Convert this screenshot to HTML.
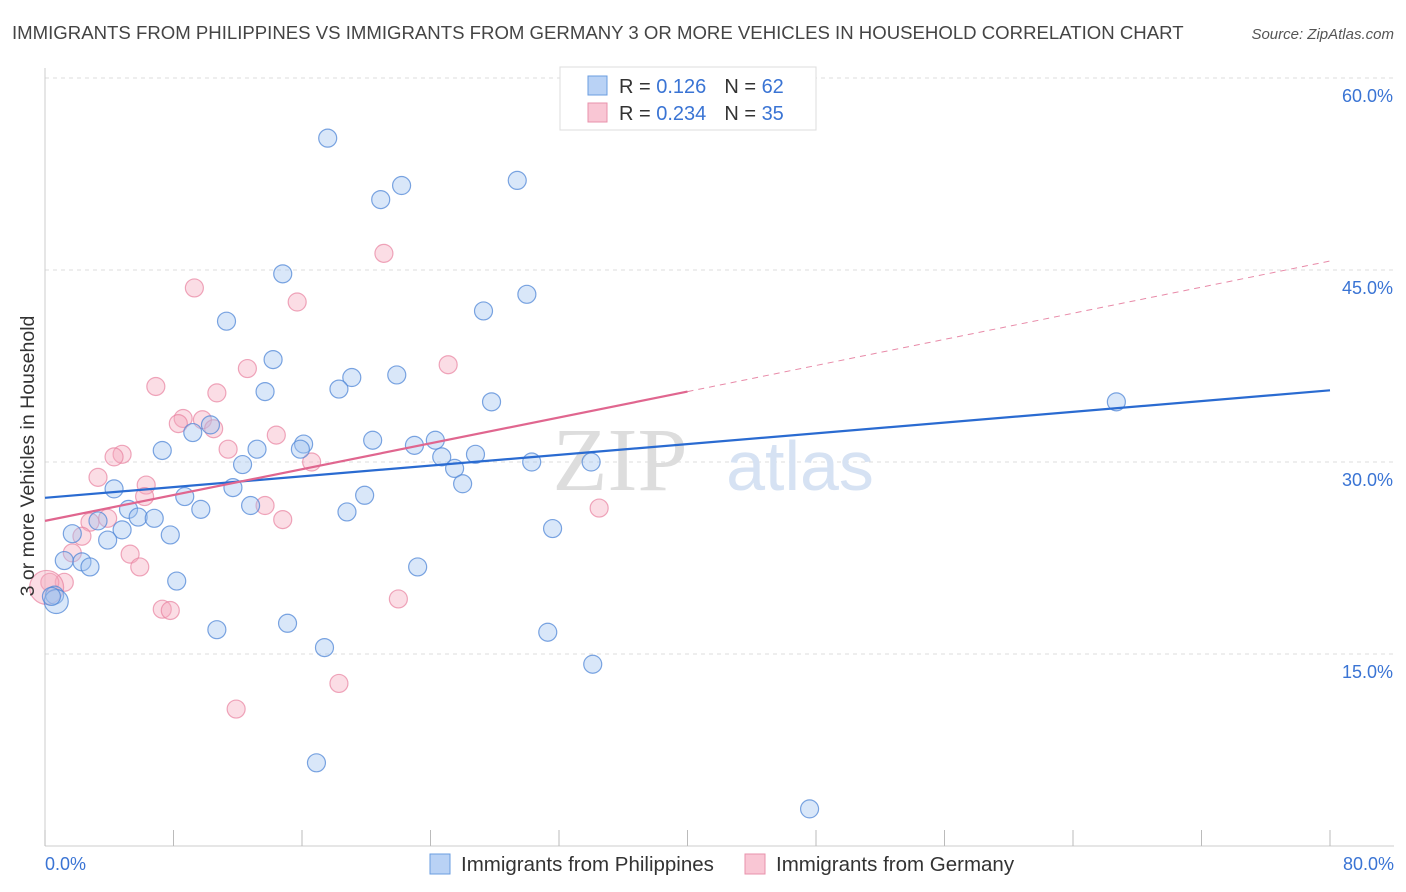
<!DOCTYPE html>
<html><head><meta charset="utf-8"><style>
body{margin:0;background:#fff;font-family:"Liberation Sans",sans-serif;}
svg{display:block}
</style></head><body>
<svg width="1406" height="892">
<text x="12" y="39" font-size="18.6" fill="#444">IMMIGRANTS FROM PHILIPPINES VS IMMIGRANTS FROM GERMANY 3 OR MORE VEHICLES IN HOUSEHOLD CORRELATION CHART</text>
<text x="1394" y="39" font-size="15" fill="#555" text-anchor="end" font-style="italic">Source: ZipAtlas.com</text>
<g id="grid"></g>
<text x="620" y="490" font-size="90" fill="#ddd" font-family="Liberation Serif,serif" text-anchor="middle">ZIP</text>
<text x="800" y="490" font-size="70" fill="#d6e2f3" text-anchor="middle">atlas</text>
<g id="pts"></g>
<g id="lines"></g>
<text transform="translate(34,456) rotate(-90)" font-size="19.5" fill="#333" text-anchor="middle">3 or more Vehicles in Household</text>
<g>
<rect x="560" y="67" width="256" height="63" fill="#fff" stroke="#ddd"/>
<rect x="588" y="76" width="19" height="19" fill="#b9d2f5" stroke="#6a9de0"/>
<rect x="588" y="103" width="19" height="19" fill="#f9c6d4" stroke="#e892ab"/>
<text x="619" y="93" font-size="20" fill="#333">R = <tspan fill="#3a74d4">0.126</tspan><tspan dx="18">N = </tspan><tspan fill="#3a74d4">62</tspan></text>
<text x="619" y="120" font-size="20" fill="#333">R = <tspan fill="#3a74d4">0.234</tspan><tspan dx="18">N = </tspan><tspan fill="#3a74d4">35</tspan></text>
</g>
<g>
<rect x="430" y="854" width="20" height="20" fill="#b9d2f5" stroke="#6a9de0"/>
<text x="461" y="871" font-size="20.5" fill="#333">Immigrants from Philippines</text>
<rect x="745" y="854" width="20" height="20" fill="#f9c6d4" stroke="#e892ab"/>
<text x="776" y="871" font-size="20.5" fill="#333">Immigrants from Germany</text>
</g>
</svg>
<script>
const yTicks=[15,30,45,60];
const xTickCount=10;
const blueX=[17.6,20.9,22.2,29.4,14.8,30.0,27.3,11.3,14.2,19.1,21.9,18.3,13.7,27.8,66.7,10.3,9.2,7.3,16.1,15.9,20.4,23.0,24.3,24.7,26.8,25.5,30.3,34.0,12.3,13.2,26.0,4.3,11.7,8.7,19.9,5.2,9.7,12.8,18.8,5.8,6.8,3.3,4.8,31.6,1.7,7.8,3.9,1.2,2.3,2.8,23.2,8.2,0.6,0.7,10.7,15.1,17.4,31.3,34.1,16.9,47.6,0.4];
const blueY=[55.3,50.5,51.6,52.0,44.7,43.1,41.8,41.0,38.0,36.6,36.8,35.7,35.5,34.7,34.7,32.9,32.3,30.9,31.4,31.0,31.7,31.3,31.7,30.4,30.6,29.5,30.0,30.0,29.8,31.0,28.3,27.9,28.0,27.3,27.4,26.3,26.3,26.6,26.1,25.7,25.6,25.4,24.7,24.8,24.4,24.3,23.9,22.3,22.2,21.8,21.8,20.7,19.6,19.1,16.9,17.4,15.5,16.7,14.2,6.5,2.9,19.5];
const pinkX=[21.1,9.3,15.7,25.1,12.6,6.9,10.7,8.6,9.8,10.5,8.3,4.8,4.3,11.4,14.4,16.6,3.3,6.3,6.2,2.8,3.9,2.3,1.7,5.3,5.9,1.2,0.3,0.1,7.3,7.8,22.0,34.5,14.8,13.7,18.3,11.9];
const pinkY=[46.3,43.6,42.5,37.6,37.3,35.9,35.4,33.4,33.3,32.6,33.0,30.6,30.4,31.0,32.1,30.0,28.8,28.2,27.3,25.3,25.6,24.2,22.9,22.8,21.8,20.6,20.6,20.2,18.5,18.4,19.3,26.4,25.5,26.6,12.7,10.7];
const pinkR=[9,9,9,9,9,9,9,9,9,9,9,9,9,9,9,9,9,9,9,9,9,9,9,9,9,9,9,17,9,9,9,9,9,9,9,9];
const blueR=blueX.map((v,i)=>i===53?12:9);
const blueLine=[27.2,35.6];
const pinkLine=[25.4,35.5,45.7]; // at x=0, 40, 80
const X=v=>45+v/80*1285, Y=v=>846-v/15*192;
const ns='http://www.w3.org/2000/svg';
function mk(t,a,p){const e=document.createElementNS(ns,t);for(const k in a)e.setAttribute(k,a[k]);p.appendChild(e);return e;}
const g=document.getElementById('grid');
yTicks.forEach(t=>{
 const l=mk('line',{x1:45,x2:1394,y1:Y(t),y2:Y(t),stroke:'#ddd','stroke-dasharray':'4,4'},g);
 
 
 const tx=mk('text',{x:1393,y:Y(t)+24,'font-size':18,fill:'#3a74d4','text-anchor':'end'},g);
 tx.textContent=t.toFixed(1)+'%';
 
 
});
mk('line',{x1:45,x2:45,y1:68,y2:846,stroke:'#ccc'},g);
mk('line',{x1:45,x2:1394,y1:846,y2:846,stroke:'#ccc'},g);
for(let i=0;i<=xTickCount;i++){const x=X(i*8);const l=mk('line',{x1:x,x2:x,y1:830,y2:846,stroke:'#bbb'},g);
 
 }
[[0,'start',45],[80,'end',1394]].forEach(([v,a,x])=>{const t=mk('text',{x:x,y:870,'font-size':18,fill:'#3a74d4','text-anchor':a},g);t.textContent=v.toFixed(1)+'%';
 
 });
const p=document.getElementById('pts');
pinkX.forEach((v,i)=>{const c=mk('circle',{cx:X(v),cy:Y(pinkY[i]),r:pinkR[i],fill:'rgba(246,170,190,0.4)',stroke:'rgba(232,130,160,0.7)','stroke-width':1.2},p);
 
 });
blueX.forEach((v,i)=>{const c=mk('circle',{cx:X(v),cy:Y(blueY[i]),r:blueR[i],fill:'rgba(160,195,240,0.4)',stroke:'rgba(80,135,215,0.75)','stroke-width':1.2},p);
 
 });
const L=document.getElementById('lines');
const b=mk('line',{x1:X(0),y1:Y(blueLine[0]),x2:X(80),y2:Y(blueLine[1]),stroke:'#2a6bd1','stroke-width':2.2},L);


const pk=mk('line',{x1:X(0),y1:Y(pinkLine[0]),x2:X(40),y2:Y(pinkLine[1]),stroke:'#e0668f','stroke-width':2.2},L);


const pd=mk('line',{x1:X(40),y1:Y(pinkLine[1]),x2:X(80),y2:Y(pinkLine[2]),stroke:'#e88aa8','stroke-width':1,'stroke-dasharray':'6,5'},L);


</script>
</body></html>
